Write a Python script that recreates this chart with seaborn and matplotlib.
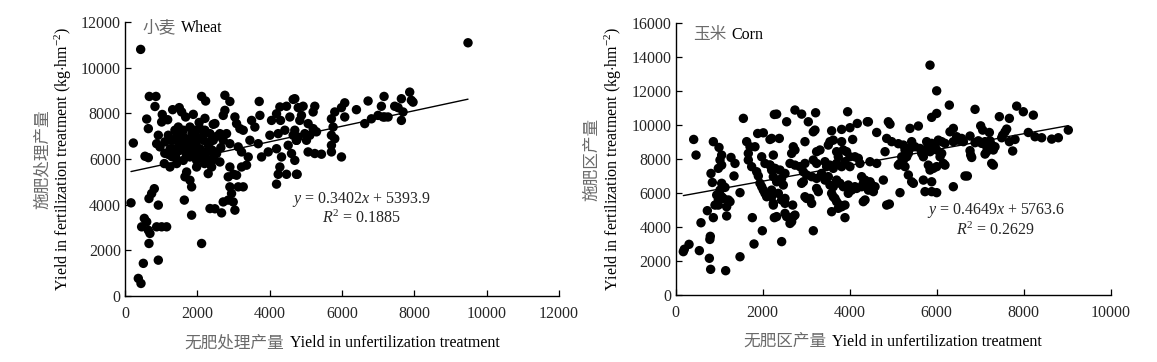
import numpy as np
import pandas as pd
import matplotlib
matplotlib.use("Agg")
import matplotlib.pyplot as plt
import seaborn as sns
from matplotlib.offsetbox import TextArea, HPacker, AnchoredOffsetbox

# ---------------- data ----------------
wheat_x = [433, 672, 857, 829, 600, 645, 230, 1030, 553, 645, 166, 810, 737, 663, 921, 534, 460, 645, 690, 875,
           1013, 1151, 600, 663, 2118, 921, 507, 368, 442, 1640, 1842, 2350,
           1180, 1317, 1500, 1566, 1676, 1888, 2118, 2229, 2210, 2440, 1013, 921, 875, 967, 1105, 1197, 1380, 1474,
           1612, 1796, 1934, 2072, 2210, 2349, 1289, 1474, 1658, 1842, 1980, 2164, 2349, 1335, 1520, 1704, 1888, 2072,
           2256, 1087, 1243, 1428, 1612, 1796, 1980, 1704, 1658, 1796, 1842, 2395, 2300, 1980,
           1200, 1400, 1550, 1750, 1950, 2100, 2250, 2400, 2500, 2300, 1600, 1850, 2050, 1450, 1250, 1100, 2550, 2650,
           2450, 2200, 1300, 1700, 2000, 2150, 2400,
           2762, 2900, 2762, 2716, 2486, 3711, 3730, 3500, 3591, 4282, 4466, 4650, 4789, 4052, 4190, 4300, 4558, 3039,
           3085, 3177, 3269, 4006, 4236, 4420, 4650, 2624, 2808, 2440, 2716, 2900, 3131, 3223, 3453, 3776, 3407, 3683,
           3960, 4190, 4328, 4512, 4604, 4742, 4282, 4236, 4190, 4466, 4760, 2532, 2624, 2900, 3223, 3361, 3002, 2854,
           3085, 2900, 3131, 3269, 2946, 2854, 2716, 2992, 2486, 2670, 3039,
           4695, 4925, 5248, 5202, 4879, 4833, 4695, 4787, 4741, 6076, 5985, 5800, 5708, 5754, 5708, 5800, 5708, 6076,
           6399, 6721, 7163, 6629, 6813, 6997, 7135, 5063, 5248, 5432, 5708, 5985, 4695, 4741, 5294, 5063, 5202, 4971,
           5017, 5110,
           9484, 7089, 7181, 7273, 7457, 7550, 7642, 7872, 7918, 7964, 7688, 7642]
wheat_y = [10800, 8740, 8740, 8300, 7750, 7330, 6700, 7950, 6120, 6060, 4080, 4700, 4490, 4270, 3980, 3400, 3030, 2880,
           2740, 3030, 3030, 3030, 3250, 2300, 2300, 1570, 1430, 770, 550, 4200, 3540, 3830,
           7720, 8160, 8250, 8060, 7840, 7955, 8740, 8540, 7780, 7520, 7620, 7040, 6670, 6530, 6750, 7040, 7260, 7400,
           7260, 7400, 7260, 7330, 7260, 7110, 6820, 6750, 6890, 6820, 6960, 6820, 6750, 6450, 6380, 6450, 6380, 6450,
           6310, 5800, 5650, 5800, 5940, 6090, 5940, 5430, 5220, 5070, 4780, 5650, 5360, 5650,
           6200, 6100, 6550, 6650, 6700, 6100, 6000, 5900, 6300, 6600, 7000, 7100, 7600, 7050, 6450, 6250, 7000, 6500,
           6100, 5800, 6100, 6150, 6200, 7000, 6400,
           8790, 8520, 8130, 7910, 7550, 8520, 7910, 7690, 7400, 8280, 8310, 8610, 8250, 7690, 7980, 7690, 7840, 7840,
           7550, 7330, 7260, 7040, 7110, 7260, 7040, 7110, 7110, 6820, 6820, 6670, 6530, 6310, 6820, 6090, 6090, 6670,
           6310, 6450, 6090, 6600, 6240, 6820, 5650, 5330, 4900, 5330, 5330, 6240, 5870, 5650, 5650, 5730, 5330, 5220,
           5290, 4780, 4780, 4780, 4490, 4200, 4120, 4120, 3820, 3640, 3760,
           8640, 8310, 8310, 8060, 7910, 7690, 7260, 6960, 6820, 8460, 8250, 8060, 7760, 7400, 7040, 6890, 6600, 7840,
           8160, 8540, 8740, 7550, 7760, 7910, 7840, 6310, 6240, 6210, 6310, 6090, 5940, 5330, 7190, 7550, 7330, 7110,
           6820, 7040,
           11090, 8310, 7840, 7840, 8310, 8250, 8640, 8930, 8570, 8490, 8060, 7690]

corn_x = [203, 180, 311, 548, 790, 800, 778, 808, 1153, 1483, 586, 732, 870, 1176, 418, 472, 870, 1000, 1061, 1023,
          1061, 985, 816, 847, 1061, 1100, 1138, 1023, 947, 908, 985, 1061, 1100, 1215, 1253, 1176, 985, 1276, 1368,
          1345, 1483, 1560, 1636, 1674, 1713, 1674, 1827, 1751, 1866, 1904, 1942, 1981, 2019, 2057, 2096, 1889, 2019,
          2172, 1981, 2057, 2172, 2210, 2210, 2249, 2272, 1766, 1996, 1805, 2272,
          2325, 2746, 2900, 2555, 3221, 3053, 3168, 3206, 3957, 3589, 3819, 4010, 4179, 4409, 4072, 3819, 2210, 2386,
          2708, 2746, 2670, 2976, 2249, 2172, 3244, 3321, 3551, 3513, 3627, 3704, 3742, 3857, 3934, 4010, 4125, 4202,
          2632, 2746, 2861, 2976, 3168, 3244, 3436, 3474, 3551, 3627, 3704, 3819, 3896, 4010, 4240, 4470, 2287, 2402,
          2517, 2249, 2440, 2325, 2478, 2210, 2364, 2517, 2440, 2249, 2938, 3015, 2938, 2900, 3130, 3244, 3359, 3436,
          3513, 3551, 3627, 3704, 3781, 3857, 3972, 4049, 4164, 3244, 3283, 2976, 3015, 3091, 3130, 3589, 3627, 3666,
          3704, 3781, 3819, 3742, 3896, 3972, 4125, 4279, 4317, 4279, 4317, 2517, 2693, 2325, 2517, 2555, 2708, 2670,
          2632, 2746, 3589, 3896, 3168, 2440,
          5851, 6004, 6295, 6004, 5889, 5583, 5391, 4893, 4931, 4434, 4625, 4855, 4970, 5123, 4817,
          5238, 5276, 5353, 5429, 5391, 5506, 5200, 5238, 5161, 5315, 5123, 5276, 5621, 5659, 5698, 5736, 5774, 5812,
          5851, 5889, 5966, 6004, 6042, 6119, 6195, 6119, 6081, 6157, 6195, 6004, 5927, 5851, 5812, 6310, 6387, 6464,
          6387, 6502, 6578, 4625, 4357, 4472, 4510, 4587, 4434, 4549, 4357, 4778, 5353, 5429, 5468, 5698, 5889, 5736,
          5889, 5161, 6004, 6387, 4916, 4855, 6655,
          6886, 7843, 7996, 8226, 7445, 7675, 7016, 7062, 7215, 7613, 7521, 7499, 8111, 8265, 8418, 8648, 8801, 9030,
          7675, 7805, 7751, 6541, 6618, 6771, 6886, 6962, 7039, 7116, 7230, 7269, 7345, 7307, 7154, 7154, 7116, 7575,
          6771, 6786, 6809, 7269, 7307, 6709]
corn_y = [2690, 2550, 2980, 2610, 3270, 3450, 2160, 1510, 1430, 2250, 4250, 4960, 4550, 4650, 9150, 8230, 9020, 8680,
          8230, 7940, 7640, 7450, 7150, 6620, 6570, 6370, 6330, 6170, 5880, 5290, 5590, 5780, 5680, 5590, 5490, 5190,
          5290, 8090, 7740, 7000, 6020, 10390, 9020, 8330, 8720, 7940, 8720, 7550, 7250, 7000, 6570, 6370, 6170, 5980,
          5780, 9500, 9540, 9150, 8130, 7740, 7640, 7350, 5780, 5290, 4550, 4550, 3780, 3000, 10620,
          10640, 10880, 10640, 10190, 10720, 10190, 9600, 9700, 10780, 9660, 9740, 9840, 10090, 10190, 9150, 9020, 9210,
          9210, 8720, 8530, 8330, 9020, 8230, 7640, 8430, 8530, 9020, 8820, 9110, 8430, 8130, 8530, 8430, 8130, 8130,
          8040, 7740, 7640, 7550, 7740, 7940, 7740, 7840, 7550, 7640, 7450, 7740, 7550, 7840, 7550, 7740, 7840, 7450,
          7350, 7150, 6960, 6860, 6660, 6470, 6170, 5980, 5680, 5590, 5390, 7250, 7060, 6660, 6570, 6960, 6860, 7150,
          6760, 6960, 6470, 6370, 6760, 6570, 6370, 6470, 6170, 6270, 6270, 6080, 5780, 5680, 5680, 5390, 5980, 5780,
          5680, 5490, 5290, 5190, 5100, 5290, 5980, 6370, 6370, 6570, 6960, 5490, 5390, 5290, 4610, 4800, 4610, 4610,
          4310, 4210, 4700, 4900, 4550, 3780, 3140,
          13520, 12010, 11170, 10680, 10450, 9940, 9800, 10190, 10050, 10190, 9560, 9210, 9020, 8900, 8430,
          8820, 8530, 8330, 9020, 8620, 8720, 8130, 7940, 7740, 8130, 7640, 7550, 8620, 8330, 8130, 8530, 9020, 8720,
          8430, 8920, 8720, 8530, 9110, 9020, 8920, 8330, 8130, 7740, 7640, 7550, 7450, 7350, 7640, 9600, 9800, 9310,
          9020, 9110, 9210, 7740, 6760, 6660, 6470, 6370, 6170, 6080, 5590, 6760, 7060, 6660, 6570, 6760, 6660, 6080,
          6080, 6020, 6020, 6370, 5350, 5290, 7000,
          10920, 11110, 10780, 10580, 10490, 10390, 9950, 9700, 9560, 9760, 9400, 9250, 9560, 9310, 9250, 9170, 9250,
          9700, 9020, 9150, 8470, 9110, 9020, 9350, 8960, 9070, 8920, 9020, 9070, 8820, 8720, 8530, 8720, 8430, 8290,
          9600, 8490, 8230, 8090, 7740, 7640, 7000]

wheat_slope, wheat_icpt, wheat_r2 = 0.3402, 5393.9, 0.1885
corn_slope, corn_icpt, corn_r2 = 0.4649, 5763.6, 0.2629

wheat_xticks = [0, 2000, 4000, 6000, 8000, 10000, 12000]
wheat_yticks = [0, 2000, 4000, 6000, 8000, 10000, 12000]
corn_xticks = [0, 2000, 4000, 6000, 8000, 10000]
corn_yticks = [0, 2000, 4000, 6000, 8000, 10000, 12000, 14000, 16000]

# ---------------- style ----------------
sns.set_style("ticks")
plt.rcParams['font.family'] = ['Liberation Serif', 'Noto Sans CJK SC']
plt.rcParams['mathtext.fontset'] = 'custom'
plt.rcParams['mathtext.rm'] = 'Liberation Serif'
plt.rcParams['mathtext.it'] = 'Liberation Serif:italic'
plt.rcParams['axes.unicode_minus'] = False

CN = ['Noto Sans CJK SC', 'DejaVu Sans']
EN = ['Liberation Serif', 'DejaVu Serif']
CN_COLOR = '#6a6a6a'
FS = 11.5
FS_CN = 12

fig = plt.figure(figsize=(11.57, 3.62), dpi=100)
W, H = 1157, 362
ax1 = fig.add_axes([125 / W, 1 - 296 / H, (559 - 125) / W, (296 - 22) / H])
ax2 = fig.add_axes([675.5 / W, 1 - 295 / H, (1110.5 - 675.5) / W, (295 - 23) / H])


def mixed(ax, cn, en, loc, xy, transform, size_cn=FS_CN, size_en=FS):
    t1 = TextArea(cn, textprops=dict(family=CN, color=CN_COLOR, size=size_cn))
    t2 = TextArea(en, textprops=dict(family=EN, color='black', size=size_en))
    box = HPacker(children=[t1, t2], align='baseline', pad=0, sep=4)
    ab = AnchoredOffsetbox(loc=loc, child=box, pad=0, borderpad=0, frameon=False,
                           bbox_to_anchor=xy, bbox_transform=transform)
    ax.add_artist(ab)


def panel(ax, xs, ys, slope, icpt, r2, xlim, ylim, xticks, yticks, name_cn, name_en, name_xy,
          eq_xy, r2_xy, xl_cn, yl_cn, ylab_px):
    df = pd.DataFrame({'x': xs, 'y': ys})
    sns.scatterplot(data=df, x='x', y='y', ax=ax, color='black', s=46, edgecolor='none', linewidth=0)
    lx = np.array([min(xs), max(xs)])
    sns.lineplot(x=lx, y=slope * lx + icpt, ax=ax, color='black', linewidth=1.0)
    ax.set_xlim(*xlim)
    ax.set_ylim(*ylim)
    ax.set_xticks(xticks)
    ax.set_yticks(yticks)
    ax.set_xticklabels([str(t) for t in xticks], family=EN, fontsize=FS)
    ax.set_yticklabels([str(t) for t in yticks], family=EN, fontsize=FS)
    ax.tick_params(axis='both', direction='in', length=4, width=0.9, color='black')
    ax.tick_params(axis='x', pad=7)
    ax.tick_params(axis='y', pad=3)
    for s in ['top', 'right']:
        ax.spines[s].set_visible(False)
    for s in ['left', 'bottom']:
        ax.spines[s].set_linewidth(1.0)
        ax.spines[s].set_color('black')
    ax.set_xlabel('')
    ax.set_ylabel('')
    ax.text(eq_xy[0], eq_xy[1], r'$y$ = %.4f$x$ + %.1f' % (slope, icpt), ha='center', va='center',
            fontsize=FS, family=EN)
    ax.text(r2_xy[0], r2_xy[1], r'$R^2$ = %.4f' % r2, ha='center', va='center', fontsize=FS, family=EN)
    mixed(ax, name_cn, name_en, 'center left', name_xy, ax.transData)
    mixed(ax, xl_cn, 'Yield in unfertilization treatment', 'upper center', (0.5, -0.14), ax.transAxes)
    # y labels (two lines)
    yc = 0.5 * (ax.get_position().y0 + ax.get_position().y1)
    fig.text(ylab_px[0] / W, yc, yl_cn, rotation=90,
             ha='center', va='center', family=CN, color=CN_COLOR, fontsize=FS_CN)
    fig.text(ylab_px[1] / W, yc,
             r'Yield in fertilization treatment (kg$\cdot$hm$^{-2}$)', rotation=90,
             ha='center', va='center', family=EN, color='black', fontsize=FS)


panel(ax1, wheat_x, wheat_y, wheat_slope, wheat_icpt, wheat_r2, (0, 12000), (0, 12000),
      wheat_xticks, wheat_yticks, '小麦', 'Wheat', (480, 11750), (6530, 4210), (6550, 3380),
      '无肥处理产量', '施肥处理产量', (42, 63))
panel(ax2, corn_x, corn_y, corn_slope, corn_icpt, corn_r2, (0, 10000), (0, 16000),
      corn_xticks, corn_yticks, '玉米', 'Corn', (400, 15300), (7370, 4950), (7360, 3820),
      '无肥区产量', '施肥区产量', (592, 613))

fig.savefig('out.png', dpi=100)
